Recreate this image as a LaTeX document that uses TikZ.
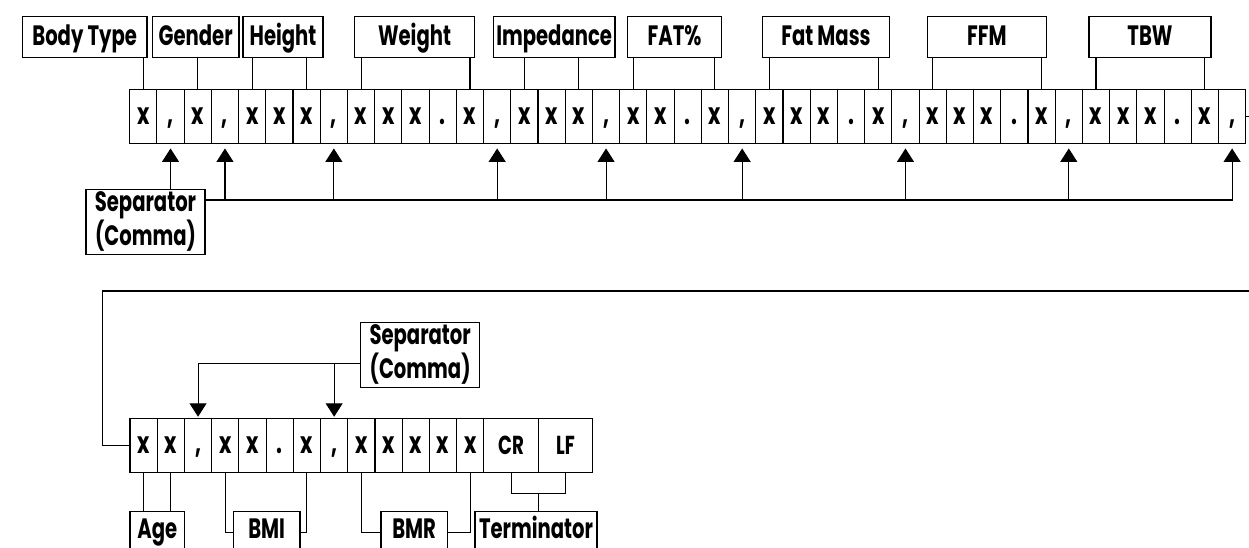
\documentclass[tikz,border=0pt]{standalone}
\usepackage{fontspec}
\setmainfont{Poppins}[FakeStretch=0.70]
\usetikzlibrary{arrows.meta,calc}
\newcommand\cellsym[1]{\if c#1,\else\if d#1.\else x\fi\fi}
\newcommand\labfont{\fontsize{28}{26}\selectfont\bfseries}
\newcommand\sepfont{\fontsize{28}{26}\selectfont\bfseries}
\newcommand\cellfont{\fontsize{30}{30}\selectfont\bfseries}
\newcommand\crfont{\fontsize{26}{26}\selectfont\bfseries}
\begin{document}
\begin{tikzpicture}[x=1pt,y=-1pt,
  cell/.style={draw, line width=1.1pt, minimum width=27.22pt, minimum height=54.4pt, inner sep=0pt, font=\cellfont, text height=16.5pt, text depth=0pt},
  wide/.style={cell, minimum width=54.44pt, font=\crfont, text height=17pt},
  lab/.style={draw, line width=1.1pt, minimum height=41pt, inner sep=0pt, font=\labfont, text height=17pt, text depth=0pt},
  blab/.style={draw, line width=1.1pt, anchor=north, inner xsep=0pt, inner ysep=10pt, font=\labfont, text height=17pt, text depth=5pt},
  sepbox/.style={draw, line width=1.1pt, minimum width=119pt, minimum height=65pt, align=center, inner sep=0pt, font=\sepfont},
  link/.style={line width=1.1pt},
  arr/.style={line width=1.1pt, -{Triangle[width=17pt,length=13.5pt]}, shorten >=4.4pt},
]
\useasboundingbox (0,0) rectangle (1249,547);

% top row of cells
\foreach \s [count=\i] in {x,c,x,c,x,x,x,c,x,x,x,d,x,c,x,x,x,c,x,x,d,x,c,x,x,x,d,x,c,x,x,x,d,x,c,x,x,x,d,x,c}
  \node[cell] (t\i) at ({129.7+(\i-0.5)*27.22},116.3) {\cellsym{\s}};

% top labels
\node[lab, minimum width=124.7pt] (bt) at (84.65,36.8) {Body Type};
\node[lab, minimum width=86.7pt] (gd) at (195.65,36.8) {Gender};
\node[lab, minimum width=80pt] (ht) at (283,36.8) {Height};
\node[lab, minimum width=120.4pt] (wt) at (414.5,36.8) {Weight};
\node[lab, minimum width=121.7pt] (imp) at (554.15,36.8) {Impedance};
\node[lab, minimum width=94.4pt] (fp) at (674.5,36.8) {FAT\%};
\node[lab, minimum width=126.6pt] (fm) at (826,36.8) {Fat Mass};
\node[lab, minimum width=119pt] (ffm) at (986.8,36.8) {FFM};
\node[lab, minimum width=122pt] (tbw) at (1150,36.8) {TBW};

\draw[link] (bt.south -| t1.north) -- (t1.north);
\draw[link] (gd.south -| t3.north) -- (t3.north);
\draw[link] (ht.south -| t5.north) -- (t5.north);
\draw[link] (ht.south -| t7.north) -- (t7.north);
\draw[link] (wt.south -| t9.north) -- (t9.north);
\draw[link] (wt.south -| t13.north) -- (t13.north);
\draw[link] (imp.south -| t15.north) -- (t15.north);
\draw[link] (imp.south -| t17.north) -- (t17.north);
\draw[link] (fp.south -| t19.north) -- (t19.north);
\draw[link] (fp.south -| t22.north) -- (t22.north);
\draw[link] (fm.south -| t24.north) -- (t24.north);
\draw[link] (fm.south -| t28.north) -- (t28.north);
\draw[link] (ffm.south -| t30.north) -- (t30.north);
\draw[link] (ffm.south -| t34.north) -- (t34.north);
\draw[link] (tbw.south -| t36.north) -- (t36.north);
\draw[link] (tbw.south -| t40.north) -- (t40.north);

% separator 1
\node[sepbox] (sep1) at (145.5,221.8) {Separator\\(Comma)};
\coordinate (bus) at (sep1.east |- 0,200);
\draw[arr] (sep1.north -| t2.south) -- (t2.south);
\draw[arr] (bus) -| (t41.south);
\foreach \k in {4,8,14,18,23,29,35}
  \draw[arr] (bus -| t\k.south) -- (t\k.south);

% wrap-around connector
\coordinate (wrapA) at (1260,116.3);
\draw[link] (t41.east) -- (wrapA);
\coordinate (wrapB) at (1260,291);
\coordinate (wrapC) at (102.7,445.5);

% bottom row of cells
\foreach \s [count=\i] in {x,x,c,x,x,d,x,c,x,x,x,x,x}
  \node[cell] (b\i) at ({130+(\i-0.5)*27.22},445.5) {\cellsym{\s}};
\node[wide] (cr) at ({130+14*27.22},445.5) {CR};
\node[wide] (lf) at ({130+16*27.22},445.5) {LF};

\draw[link] (wrapB) -| (wrapC) -- (b1.west);

% separator 2
\node[sepbox] (sep2) at (420.15,354.8) {Separator\\(Comma)};
\coordinate (s2) at (sep2.west |- 0,363.3);
\draw[arr, shorten >=1pt] (s2) -| (b3.north);
\draw[arr, shorten >=1pt] (s2 -| b8.north) -- (b8.north);

% bottom labels
\node[blab, minimum width=54.7pt] (age) at (157.35,511) {Age};
\node[blab, minimum width=66.7pt] (bmi) at (266.65,511) {BMI};
\node[blab, minimum width=66.3pt] (bmr) at (414.15,511) {BMR};
\node[blab, minimum width=122pt] (term) at (536,511) {Terminator};

\draw[link] (b1.south) -- (b1.south |- age.north);
\draw[link] (b2.south) -- (b2.south |- age.north);
\draw[link] (b4.south) |- (bmi.west);
\draw[link] (b7.south) |- (bmi.east);
\draw[link] (b9.south) |- (bmr.west);
\draw[link] (b13.south) |- (bmr.east);
\coordinate (mid) at ($(cr.south)!0.5!(lf.south)+(0,20)$);
\draw[link] (cr.south) -- ++(0,20) -| (lf.south);
\draw[link] (mid) -- (mid |- term.north);
\end{tikzpicture}
\end{document}
